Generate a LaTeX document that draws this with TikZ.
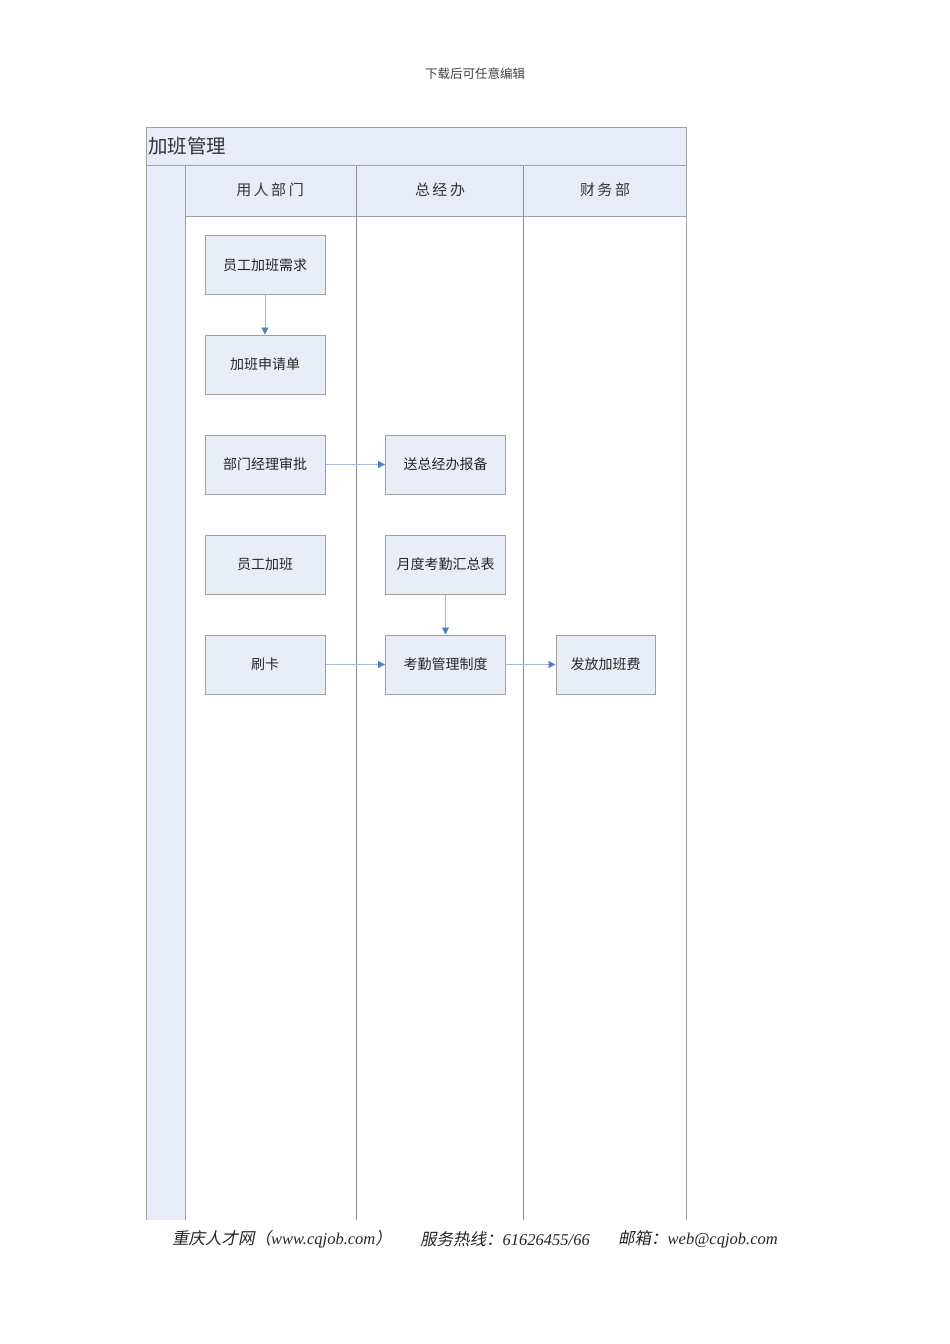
\documentclass[tikz,border=0pt]{standalone}
\usepackage{fontspec}
\setmainfont{Liberation Serif}
\newfontfamily\cjk{Noto Sans CJK SC}
\newfontfamily\cjkit[FakeSlant=0.2]{Noto Sans CJK SC}
\usetikzlibrary{arrows.meta}
\definecolor{lanefill}{HTML}{E8ECF8}
\definecolor{boxfill}{HTML}{E8EDF8}
\definecolor{edge}{HTML}{A0A0A0}
\definecolor{sep}{HTML}{8C8C8C}
\definecolor{arrowblue}{HTML}{4F81BD}
\definecolor{flowline}{HTML}{A8B8D8}
\tikzset{
  stepbox/.style={draw=edge, fill=boxfill, line width=1pt, minimum width=120pt, minimum height=59pt, inner sep=0pt, font=\cjk\fontsize{14}{16}\selectfont, text=black!85},
  flow/.style={draw=flowline, line width=0.8pt, -{Triangle[length=7pt,width=7pt,fill=arrowblue,color=arrowblue]}},
  lanehead/.style={font=\cjk\fontsize{15}{18}\selectfont, text=black!80},
  foot/.style={anchor=west, inner sep=0pt, text=black!85, font=\fontsize{16.5}{18}\selectfont},
}
\begin{document}
\begin{tikzpicture}[x=1pt,y=-1pt]
\useasboundingbox (0,0) rectangle (950,1344);
\fill[white] (0,0) rectangle (950,1344);
% top header
\node[font=\cjk\fontsize{12.5}{14}\selectfont, text=black!75] (hdr) at (475,74) {下载后可任意编辑};
% pool title band
\fill[lanefill] (146,127) rectangle (686,165);
\fill[lanefill] (146,165) rectangle (185,1220);
\fill[lanefill] (185,166) rectangle (686,216);
\draw[edge, line width=1pt] (146,1220) -- (146,127) -- (686,127) -- (686,1220);
\draw[edge, line width=1pt] (146,165.5) -- (686,165.5);
\draw[edge, line width=1pt] (185,166) -- (185,1220);
\draw[edge, line width=1pt] (185,216.5) -- (686,216.5);
\draw[sep, line width=1pt] (356,166) -- (356,1220);
\draw[sep, line width=1pt] (523,166) -- (523,1220);
\node[anchor=west, font=\cjk\fontsize{19.5}{22}\selectfont, text=black!80, inner sep=0pt] (title) at (148,146) {加班管理};
\node[lanehead] (l1) at (270,190) {用\,人\,部\,门};
\node[lanehead] (l2) at (440,190) {总\,经\,办};
\node[lanehead] (l3) at (605,190) {财\,务\,部};
% boxes
\node[stepbox] (a1) at (265,265) {员工加班需求};
\node[stepbox] (a2) at (265,364.5) {加班申请单};
\node[stepbox] (a3) at (265,464.5) {部门经理审批};
\node[stepbox] (a4) at (265,564.5) {员工加班};
\node[stepbox] (a5) at (265,664.5) {刷卡};
\node[stepbox] (b1) at (445.5,464.5) {送总经办报备};
\node[stepbox] (b2) at (445.5,564.5) {月度考勤汇总表};
\node[stepbox] (b3) at (445.5,664.5) {考勤管理制度};
\node[stepbox, minimum width=99pt] (c1) at (605.5,664.5) {发放加班费};
% connectors
\draw[flow] (a1) -- (a2);
\draw[flow] (a3) -- (b1);
\draw[flow] (b2) -- (b3);
\draw[flow] (a5) -- (b3);
\draw[flow] (b3) -- (c1);
% footer
\node[foot] (f1) at (172,1239) {{\cjkit 重庆人才网（}\textit{www.cqjob.com}{\cjkit ）}};
\node[foot] (f2) at (420,1239) {{\cjkit 服务热线：}\textit{61626455/66}};
\node[foot] (f3) at (618,1239) {{\cjkit 邮箱：}\textit{web@cqjob.com}};
\end{tikzpicture}
\end{document}
